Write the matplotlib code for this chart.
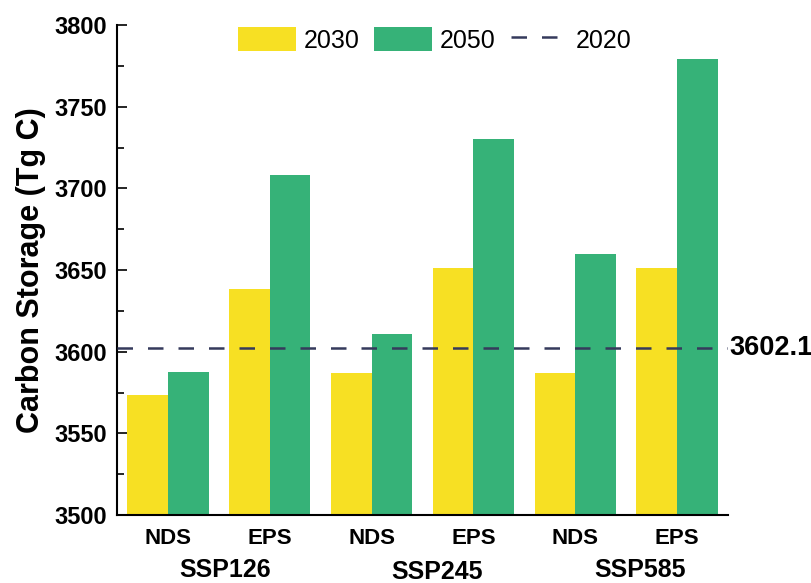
import matplotlib
matplotlib.use("Agg")
import matplotlib.pyplot as plt
import matplotlib.transforms as mtrans
import numpy as np
from matplotlib.ticker import MultipleLocator

plt.rcParams['font.family'] = ['Liberation Sans', 'DejaVu Sans']

# ---- data ----
scenarios = ['NDS', 'EPS', 'NDS', 'EPS', 'NDS', 'EPS']
groups = ['SSP126', 'SSP245', 'SSP585']
vals_2030 = [3573.5, 3638.5, 3587.0, 3651.5, 3587.0, 3651.0]
vals_2050 = [3587.5, 3708.0, 3611.0, 3730.0, 3660.0, 3779.0]
baseline_2020 = 3602.1

c2030 = '#F7E023'
c2050 = '#36B278'
cdash = '#353a5c'

fig = plt.figure(figsize=(8.11, 5.83), dpi=100)
ax = fig.add_axes([117/811, 1-515/583, (728-117)/811, (515-25)/583])

x = np.arange(len(scenarios))
w = 0.4
b1 = ax.bar(x - w/2, vals_2030, width=w, color=c2030, label='2030', zorder=2)
b2 = ax.bar(x + w/2, vals_2050, width=w, color=c2050, label='2050', zorder=2)
ln = ax.axhline(baseline_2020, color=cdash, lw=1.8, dashes=(6.2, 6.0), label='2020', zorder=3)

ax.set_xlim(-0.5, 5.5)
ax.set_ylim(3500, 3800)
ax.yaxis.set_major_locator(MultipleLocator(50))
ax.yaxis.set_minor_locator(MultipleLocator(25))
ax.set_xticks(x)
ax.set_xticklabels(scenarios, fontsize=16, fontweight='bold')
ax.tick_params(axis='x', length=0, pad=9)
ax.tick_params(axis='y', which='major', direction='in', length=7.2, width=1.2,
               labelsize=17, pad=7)
ax.tick_params(axis='y', which='minor', direction='in', length=5, width=1.2)
for lab in ax.get_yticklabels():
    lab.set_fontweight('bold')

for s in ['top', 'right']:
    ax.spines[s].set_visible(False)
for s in ['left', 'bottom']:
    ax.spines[s].set_linewidth(1.5)

ax.set_ylabel('Carbon Storage (Tg C)', fontsize=22, fontweight='bold', labelpad=6)

# group labels
group_x = [0.56, 2.64, 4.64]
group_y = [-0.112, -0.117, -0.112]
trans = ax.get_xaxis_transform()
for gx, gy, g in zip(group_x, group_y, groups):
    ax.text(gx, gy, g, transform=trans, ha='center', va='center',
            fontsize=18, fontweight='bold')

# baseline label
tr = mtrans.blended_transform_factory(ax.transAxes, ax.transData)
ax.text(1.002, baseline_2020, f'{baseline_2020:.1f}', transform=tr, ha='left', va='center',
        fontsize=19.5, fontweight='bold')

leg = ax.legend(handles=[b1, b2, ln], labels=['2030', '2050', '2020'],
                ncol=3, frameon=False, fontsize=18, loc='upper left',
                bbox_to_anchor=(238/811, 1-27/583), bbox_transform=fig.transFigure,
                borderpad=0, borderaxespad=0, handlelength=2.32, handleheight=1.12,
                handletextpad=0.3, columnspacing=0.6)

fig.savefig('out.png', dpi=100)
